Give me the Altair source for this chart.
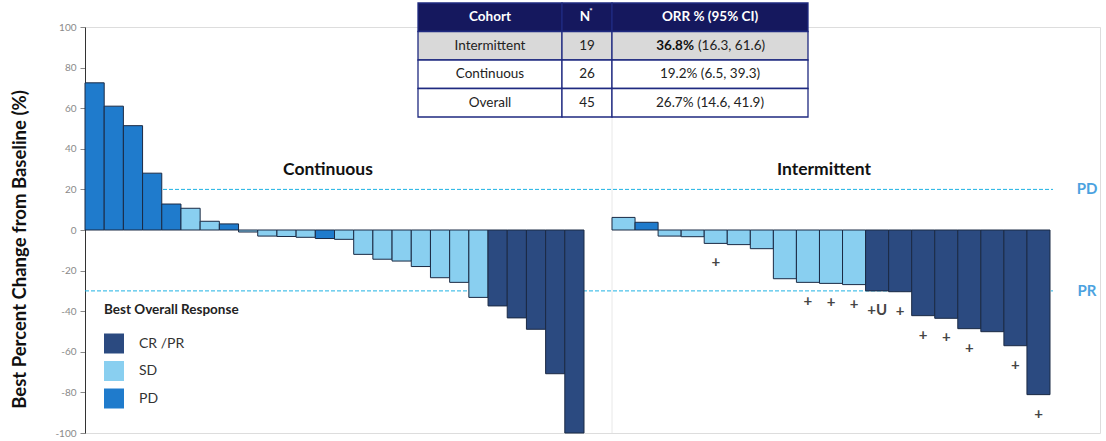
import altair as alt
import pandas as pd

# ---- Best percent change from baseline, one value per patient (sorted) ----
CONT_VALUES = [72.5, 61.0, 51.4, 28.0, 12.8, 10.7, 4.3, 3.0, -1.0, -3.0, -3.2, -3.6, -4.2,
               -4.6, -12.0, -14.4, -15.3, -18.0, -23.5, -25.8, -33.2,
               -37.4, -43.3, -48.9, -70.8, -100.0]
CONT_RESPONSE = ["PD", "PD", "PD", "PD", "PD", "SD", "SD", "PD", "SD", "SD", "SD", "SD", "PD",
                 "SD", "SD", "SD", "SD", "SD", "SD", "SD", "SD",
                 "CR /PR", "CR /PR", "CR /PR", "CR /PR", "CR /PR"]

INT_VALUES = [6.2, 3.8, -3.0, -3.3, -6.6, -7.2, -9.2, -24.0, -25.8, -26.3, -26.9,
              -30.0, -30.4, -42.2, -43.5, -48.6, -50.1, -57.0, -81.1]
INT_RESPONSE = ["SD", "PD", "SD", "SD", "SD", "SD", "SD", "SD", "SD", "SD", "SD",
                "CR /PR", "CR /PR", "CR /PR", "CR /PR", "CR /PR", "CR /PR", "CR /PR", "CR /PR"]
INT_MARKERS = ["", "", "", "", "+", "", "", "", "+", "+", "+",
               "+U", "+", "+", "+", "+", "", "+", "+"]

RESPONSES = ["CR /PR", "SD", "PD"]
RESPONSE_COLORS = ["#2b4a80", "#89cff0", "#1f7bcc"]

THRESHOLDS = [20, -30]
THRESHOLD_LABELS = ["PD", "PR"]
Y_TICKS = [-100, -80, -60, -40, -20, 0, 20, 40, 60, 80, 100]

PANELS = ["Continuous", "Intermittent"]

# ---- Response-rate summary table ----
TABLE_HEADER = ["Cohort", "N", "ORR % (95% CI)"]
COHORTS = ["Intermittent", "Continuous", "Overall"]
COHORT_N = [19, 26, 45]
ORR_PCT = [36.8, 19.2, 26.7]
ORR_LO = [16.3, 6.5, 14.6]
ORR_HI = [61.6, 39.3, 41.9]
HIGHLIGHT = "Intermittent"

# ---- layout (pixels inside the plot area) ----
W, H = 1015, 406
CONT_RANGE = [0, 499]
INT_RANGE = [527, 965]
RULE_END = 968
TABLE_X = [333, 723]
TABLE_Y = [-24, 90]
COL_WIDTHS = [144, 50, 196]
FONT = "Lato"
NAVY = "#15185e"

y_scale = alt.Scale(domain=[-100, 100])
color_scale = alt.Scale(domain=RESPONSES, range=RESPONSE_COLORS)

cont_df = pd.DataFrame({"idx": list(range(len(CONT_VALUES))), "value": CONT_VALUES,
                        "response": CONT_RESPONSE})
int_df = pd.DataFrame({"idx": list(range(len(INT_VALUES))), "value": INT_VALUES,
                       "response": INT_RESPONSE, "marker": INT_MARKERS})


def band_x(n, rng):
    return alt.X("idx:O", axis=None,
                 scale=alt.Scale(domain=list(range(n)), range=rng,
                                 paddingInner=0, paddingOuter=0))


legend = alt.Legend(title="Best Overall Response", orient="none", legendX=19, legendY=276,
                    titleFont=FONT, titleFontSize=13.5, titleFontWeight="bold", titleColor="#222222",
                    titlePadding=17, symbolType="square", symbolSize=400, symbolStrokeWidth=0,
                    symbolOpacity=1, labelFont=FONT, labelFontSize=14, labelColor="#333333",
                    labelOffset=15, rowPadding=7.5, padding=0)

y_axis = alt.Axis(values=Y_TICKS, labelExpr="'' + datum.value", grid=False,
                  labelFont=FONT, labelFontSize=10, labelColor="#8a8a8a", labelPadding=4,
                  tickColor="#8a8a8a", tickSize=5, domainColor="#333333",
                  title="Best Percent Change from Baseline (%)", titleFont=FONT,
                  titleFontSize=18.5, titleFontWeight="bold", titleColor="#111111",
                  titleAngle=-90, titleX=-66, titleY=222, titleAlign="center",
                  titleBaseline="middle")

cont_bars = alt.Chart(cont_df).mark_bar(stroke="#1b2a44", strokeWidth=1).encode(
    x=band_x(len(CONT_VALUES), CONT_RANGE),
    y=alt.Y("value:Q", scale=y_scale, axis=y_axis),
    y2=alt.datum(0),
    color=alt.Color("response:N", scale=color_scale, legend=legend),
)

int_bars = alt.Chart(int_df).mark_bar(stroke="#1b2a44", strokeWidth=1).encode(
    x=band_x(len(INT_VALUES), INT_RANGE),
    y=alt.Y("value:Q", scale=y_scale, axis=None),
    y2=alt.datum(0),
    color=alt.Color("response:N", scale=color_scale, legend=legend),
)

int_markers = alt.Chart(int_df).transform_filter("datum.marker != ''").mark_text(
    dy=19, baseline="middle", font=FONT, fontSize=15, fontWeight="bold", color="#454545"
).encode(
    x=band_x(len(INT_VALUES), INT_RANGE),
    y=alt.Y("value:Q", scale=y_scale, axis=None),
    text="marker:N",
)

thr_df = pd.DataFrame({"y": THRESHOLDS, "label": THRESHOLD_LABELS})
thr_rules = alt.Chart(thr_df).mark_rule(strokeDash=[4, 2], color="#1fb2e4", strokeWidth=1).encode(
    y=alt.Y("y:Q", scale=y_scale, axis=None),
    x=alt.value(0), x2=alt.value(RULE_END),
)
thr_text = alt.Chart(thr_df).mark_text(
    font=FONT, fontSize=15, fontWeight="bold", color="#4ba2e0", baseline="middle"
).encode(
    y=alt.Y("y:Q", scale=y_scale, axis=None),
    x=alt.value(1002),
    text="label:N",
)

separator = alt.Chart(pd.DataFrame({"a": [0]})).mark_rule(color="#e8e8e8", strokeWidth=1).encode(
    x=alt.value(INT_RANGE[0]), y=alt.value(TABLE_Y[1]), y2=alt.value(H),
)

panel_df = pd.DataFrame({"panel": PANELS, "px": [243, 739]})
panel_titles = alt.Chart(panel_df).mark_text(
    font=FONT, fontSize=17.5, fontWeight="bold", color="#111111", baseline="middle"
).encode(
    x=alt.X("px:Q", scale=alt.Scale(domain=[0, W], range=[0, W]), axis=None),
    y=alt.value(143),
    text="panel:N",
)

# ---- table ----
rows = ["header"] + COHORTS
edges = [0]
for w in COL_WIDTHS:
    edges.append(edges[-1] + w)
centers = [(edges[i] + edges[i + 1]) / 2 for i in range(3)]

cells = []
for r in rows:
    fill = NAVY if r == "header" else ("#d9d9d9" if r == HIGHLIGHT else "#ffffff")
    for c in range(3):
        cells.append({"row": r, "x0": edges[c], "x1": edges[c + 1], "fill": fill})
cells_df = pd.DataFrame(cells)

tx = alt.Scale(domain=[0, edges[-1]], range=TABLE_X)
ty = alt.Scale(domain=rows, range=TABLE_Y, paddingInner=0, paddingOuter=0)

table_rects = alt.Chart(cells_df).mark_rect(stroke="#1f2a80", strokeWidth=1.3).encode(
    x=alt.X("x0:Q", scale=tx, axis=None), x2="x1:Q",
    y=alt.Y("row:N", scale=ty, axis=None),
    fill=alt.Fill("fill:N", scale=None),
)

header_df = pd.DataFrame({"row": ["header"] * 3, "cx": [centers[0], centers[1] - 2, centers[2]],
                          "text": TABLE_HEADER})
header_text = alt.Chart(header_df).mark_text(
    font=FONT, fontSize=13.5, fontWeight="bold", color="#ffffff", baseline="middle"
).encode(
    x=alt.X("cx:Q", scale=tx, axis=None),
    y=alt.Y("row:N", scale=ty, axis=None),
    text="text:N",
)
star_df = pd.DataFrame({"row": ["header"], "cx": [centers[1] + 4], "text": ["*"]})
header_star = alt.Chart(star_df).mark_text(
    font=FONT, fontSize=8, fontWeight="bold", color="#ffffff", baseline="middle", dy=-5
).encode(
    x=alt.X("cx:Q", scale=tx, axis=None),
    y=alt.Y("row:N", scale=ty, axis=None),
    text="text:N",
)

body = []
for name, n, p, lo, hi in zip(COHORTS, COHORT_N, ORR_PCT, ORR_LO, ORR_HI):
    body.append({"row": name, "cx": centers[0], "text": name})
    body.append({"row": name, "cx": centers[1], "text": str(n)})
    if name != HIGHLIGHT:
        body.append({"row": name, "cx": centers[2], "text": f"{p:.1f}% ({lo:.1f}, {hi:.1f})"})
body_df = pd.DataFrame(body)
body_text = alt.Chart(body_df).mark_text(
    font=FONT, fontSize=13.5, color="#222222", baseline="middle"
).encode(
    x=alt.X("cx:Q", scale=tx, axis=None),
    y=alt.Y("row:N", scale=ty, axis=None),
    text="text:N",
)

hi_i = COHORTS.index(HIGHLIGHT)
split = centers[2] - 15
bold_df = pd.DataFrame({"row": [HIGHLIGHT], "cx": [split], "text": [f"{ORR_PCT[hi_i]:.1f}%"]})
rest_df = pd.DataFrame({"row": [HIGHLIGHT], "cx": [split],
                        "text": [f"({ORR_LO[hi_i]:.1f}, {ORR_HI[hi_i]:.1f})"]})
hi_bold = alt.Chart(bold_df).mark_text(
    font=FONT, fontSize=13.5, fontWeight="bold", color="#111111", baseline="middle", align="right", dx=-1
).encode(
    x=alt.X("cx:Q", scale=tx, axis=None),
    y=alt.Y("row:N", scale=ty, axis=None),
    text="text:N",
)
hi_rest = alt.Chart(rest_df).mark_text(
    font=FONT, fontSize=13.5, color="#222222", baseline="middle", align="left", dx=3
).encode(
    x=alt.X("cx:Q", scale=tx, axis=None),
    y=alt.Y("row:N", scale=ty, axis=None),
    text="text:N",
)

chart = alt.layer(
    separator, thr_rules, cont_bars, int_bars, int_markers, thr_text, panel_titles,
    table_rects, header_text, header_star, body_text, hi_bold, hi_rest,
).resolve_scale(
    x="independent", y="independent"
).properties(
    width=W, height=H,
    padding={"left": 85, "top": 27, "right": 6, "bottom": 8},
    autosize=alt.AutoSizeParams(type="none"),
    background="#ffffff",
).configure_view(stroke=None).configure(font=FONT)

chart.save("out.html", embed_options={"renderer": "svg", "actions": False})
